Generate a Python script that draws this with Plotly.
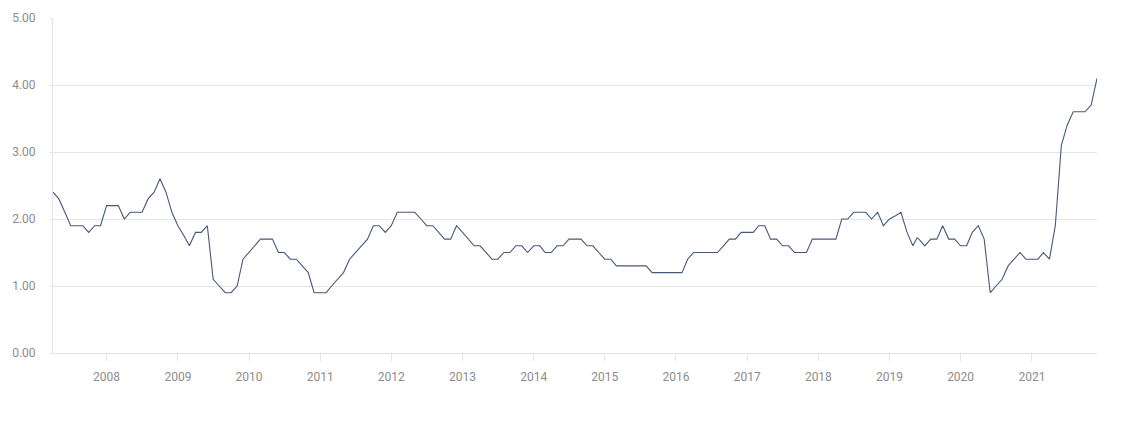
import pandas as pd
import plotly.graph_objects as go

# Monthly values, April 2007 .. December 2021
start_month = "2007-04-01"
values = [
    2.4, 2.3, 2.1, 1.9, 1.9, 1.9, 1.8, 1.9, 1.9,            # 2007 Apr-Dec
    2.2, 2.2, 2.2, 2.0, 2.1, 2.1, 2.1, 2.3, 2.4, 2.6, 2.4, 2.1,  # 2008
    1.9, 1.75, 1.6, 1.8, 1.8, 1.9, 1.1, 1.0, 0.9, 0.9, 1.0, 1.4,  # 2009
    1.5, 1.6, 1.7, 1.7, 1.7, 1.5, 1.5, 1.4, 1.4, 1.3, 1.2, 0.9,  # 2010
    0.9, 0.9, 1.0, 1.1, 1.2, 1.4, 1.5, 1.6, 1.7, 1.9, 1.9, 1.8,  # 2011
    1.9, 2.1, 2.1, 2.1, 2.1, 2.0, 1.9, 1.9, 1.8, 1.7, 1.7, 1.9,  # 2012
    1.8, 1.7, 1.6, 1.6, 1.5, 1.4, 1.4, 1.5, 1.5, 1.6, 1.6, 1.5,  # 2013
    1.6, 1.6, 1.5, 1.5, 1.6, 1.6, 1.7, 1.7, 1.7, 1.6, 1.6, 1.5,  # 2014
    1.4, 1.4, 1.3, 1.3, 1.3, 1.3, 1.3, 1.3, 1.2, 1.2, 1.2, 1.2,  # 2015
    1.2, 1.2, 1.4, 1.5, 1.5, 1.5, 1.5, 1.5, 1.6, 1.7, 1.7, 1.8,  # 2016
    1.8, 1.8, 1.9, 1.9, 1.7, 1.7, 1.6, 1.6, 1.5, 1.5, 1.5, 1.7,  # 2017
    1.7, 1.7, 1.7, 1.7, 2.0, 2.0, 2.1, 2.1, 2.1, 2.0, 2.1, 1.9,  # 2018
    2.0, 2.05, 2.1, 1.8, 1.6, 1.7, 1.6, 1.7, 1.7, 1.9, 1.7, 1.7,  # 2019
    1.6, 1.6, 1.8, 1.9, 1.7, 0.9, 1.0, 1.1, 1.3, 1.4, 1.5, 1.4,  # 2020
    1.4, 1.4, 1.5, 1.4, 1.9, 3.1, 3.4, 3.6, 3.6, 3.6, 3.7, 4.1,  # 2021
]
# one intra-month reading (late May 2019)
extra_date = "2019-05-23"
extra_value = 1.72

y_ticks = [0, 1, 2, 3, 4, 5]

dates = list(pd.date_range(start_month, periods=len(values), freq="MS"))
s = pd.Series(values, index=dates)
s.loc[pd.Timestamp(extra_date)] = extra_value
s = s.sort_index()

fig = go.Figure()
fig.add_trace(go.Scatter(
    x=s.index, y=s.values, mode="lines",
    line=dict(color="#46597a", width=1.1),
    hoverinfo="x+y", showlegend=False,
))

font_color = "#8c8c8c"
fig.update_layout(
    width=1105, height=411,
    margin=dict(l=45, r=16, t=10, b=66),
    paper_bgcolor="white", plot_bgcolor="white",
    font=dict(family="Roboto, sans-serif", size=12, color=font_color),
    xaxis=dict(
        type="date",
        range=[dates[0], dates[-1]],
        tickformat="%Y", dtick="M12", tick0="2008-01-01",
        showgrid=False,
        showline=True, linecolor="#e3e3e3", linewidth=1,
        ticks="outside", ticklen=7, tickcolor="#e3e3e3",
        ticklabelstandoff=6,
        tickfont=dict(size=12, color=font_color),
        automargin=False,
    ),
    yaxis=dict(
        range=[0, 5],
        tickvals=y_ticks,
        tickformat=".2f",
        showgrid=True, gridcolor="#e6e6e6", gridwidth=1,
        zeroline=False,
        showline=True, linecolor="#e3e3e3", linewidth=1,
        ticks="outside", ticklen=2, tickcolor="#e3e3e3",
        ticklabelstandoff=12,
        tickfont=dict(size=12, color=font_color),
        automargin=False,
    ),
)

fig.write_html("out.html")
